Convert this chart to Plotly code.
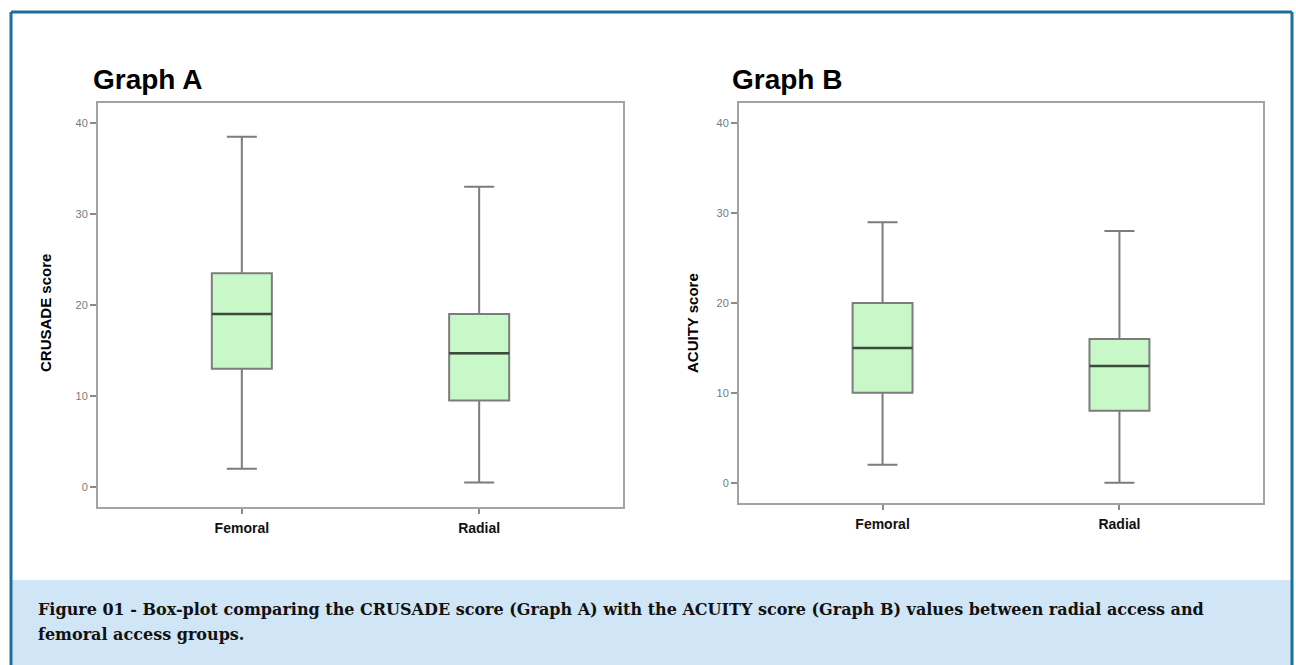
import plotly.graph_objects as go

# ---- data ----
categories = ["Femoral", "Radial"]
crusade_upper = [38.5, 33.0]
crusade_q3 = [23.5, 19.0]
crusade_median = [19.0, 14.7]
crusade_q1 = [13.0, 9.5]
crusade_lower = [2.0, 0.5]

acuity_upper = [29.0, 28.0]
acuity_q3 = [20.0, 16.0]
acuity_median = [15.0, 13.0]
acuity_q1 = [10.0, 8.0]
acuity_lower = [2.0, 0.0]

y_ticks = [0, 10, 20, 30, 40]

W, H = 1296, 665
def px(x):
    return x / W
def py(y):
    return 1 - y / H

BOX_W = 0.253
FILL = "#c8f8c8"
LINE = "#7c7c7c"
MED = "#3b4a3b"

fig = go.Figure()
xpos = list(range(len(categories)))

def add_panel(xa, ya, upper, q3, med, q1, lower):
    fig.add_trace(go.Box(
        x=xpos, q1=q1, median=med, q3=q3, lowerfence=lower, upperfence=upper,
        width=BOX_W, whiskerwidth=0.5, fillcolor=FILL,
        line=dict(color=LINE, width=2), boxpoints=False,
        xaxis=xa, yaxis=ya, showlegend=False, hoverinfo="skip"))
    mx, my = [], []
    for xi, m in zip(xpos, med):
        mx += [xi - BOX_W / 2, xi + BOX_W / 2, None]
        my += [m, m, None]
    fig.add_trace(go.Scatter(x=mx, y=my, mode="lines",
                             line=dict(color=MED, width=2.5),
                             xaxis=xa, yaxis=ya, showlegend=False, hoverinfo="skip"))

add_panel("x", "y", crusade_upper, crusade_q3, crusade_median, crusade_q1, crusade_lower)
add_panel("x2", "y2", acuity_upper, acuity_q3, acuity_median, acuity_q1, acuity_lower)

axis_common = dict(showline=True, mirror=True, linecolor="#a3a3a3", linewidth=2,
                   showgrid=False, zeroline=False, ticks="outside", tickcolor="#8a8a8a",
                   tickwidth=1.5)

xaxis_common = dict(axis_common, tickvals=xpos, ticktext=categories, range=[-0.606, 1.606],
                    ticklen=5, tickfont=dict(family="Arial", size=14, color="#111", weight="bold"),
                    ticklabelstandoff=2)
yaxis_common = dict(axis_common, tickvals=y_ticks, ticklen=6,
                    tickfont=dict(family="Arial", size=11, color="#7a7a7a"))

fig.update_layout(
    width=W, height=H,
    margin=dict(l=0, r=0, t=0, b=0),
    paper_bgcolor="white", plot_bgcolor="white",
    xaxis=dict(xaxis_common, domain=[px(98), px(623)], anchor="y"),
    yaxis=dict(yaxis_common, domain=[py(507), py(103)], range=[-2.2, 42.2], anchor="x"),
    xaxis2=dict(xaxis_common, domain=[px(739), px(1263)], anchor="y2"),
    yaxis2=dict(yaxis_common, domain=[py(503), py(103)], range=[-2.26, 42.26], anchor="x2"),
)

shapes = [
    dict(type="rect", xref="paper", yref="paper", x0=px(12), x1=px(1291), y0=py(665), y1=py(580),
         fillcolor="#d0e5f5", line=dict(width=0), layer="below"),
    dict(type="line", xref="paper", yref="paper", x0=px(11), x1=px(11), y0=py(12), y1=py(670),
         line=dict(color="#19709a", width=3)),
    dict(type="line", xref="paper", yref="paper", x0=px(1292), x1=px(1292), y0=py(12), y1=py(670),
         line=dict(color="#19709a", width=3)),
    dict(type="line", xref="paper", yref="paper", x0=px(11), x1=px(1292), y0=py(12), y1=py(12),
         line=dict(color="#19709a", width=3)),
]
fig.update_layout(shapes=shapes)

ann = [
    dict(text="Graph A", x=px(91), y=py(79), xanchor="left", yanchor="middle",
         font=dict(family="Arial", size=28, color="black", weight="bold")),
    dict(text="Graph B", x=px(730), y=py(79), xanchor="left", yanchor="middle",
         font=dict(family="Arial", size=28, color="black", weight="bold")),
    dict(text="CRUSADE score", x=px(46), y=py(313), textangle=-90, xanchor="center", yanchor="middle",
         font=dict(family="Arial", size=15, color="black", weight="bold")),
    dict(text="ACUITY score", x=px(692), y=py(323), textangle=-90, xanchor="center", yanchor="middle",
         font=dict(family="Arial", size=15, color="black", weight="bold")),
    dict(text="Figure 01 - Box-plot comparing the CRUSADE score (Graph A) with the ACUITY score (Graph B) values between radial access and",
         x=px(36), y=py(609), xanchor="left", yanchor="middle",
         font=dict(family="DejaVu Serif", size=16, color="#111", weight="bold")),
    dict(text="femoral access groups.",
         x=px(36), y=py(634), xanchor="left", yanchor="middle",
         font=dict(family="DejaVu Serif", size=16, color="#111", weight="bold")),
]
for a in ann:
    a.update(xref="paper", yref="paper", showarrow=False)
fig.update_layout(annotations=ann)

fig.write_html("out.html")
